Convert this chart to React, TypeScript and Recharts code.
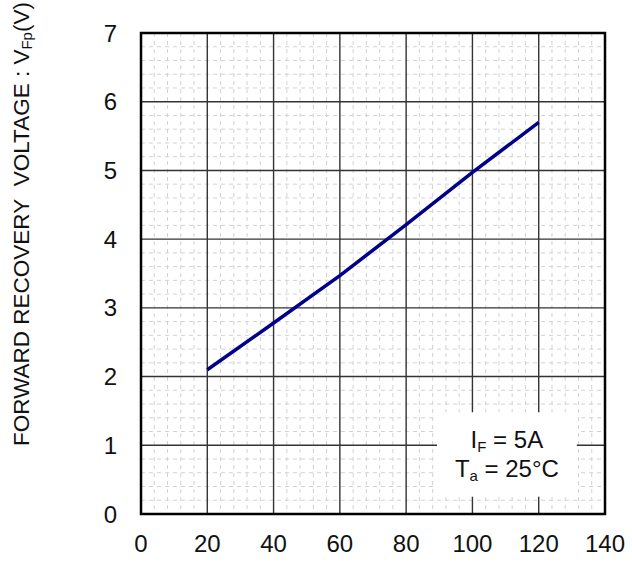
import React from "react";
import { CartesianGrid, Line, LineChart, ReferenceArea, XAxis, YAxis } from "recharts";

// forward current rise-time sweep (x) vs forward recovery voltage VFp (V)
const xValues = [20, 40, 60, 80, 100, 120];
const vfp = [2.1, 2.78, 3.47, 4.21, 4.97, 5.7];

const xTicks = [0, 20, 40, 60, 80, 100, 120, 140];
const yTicks = [0, 1, 2, 3, 4, 5, 6, 7];

const xMinor: number[] = [];
for (let v = 4; v < 140; v += 4) if (v % 20 !== 0) xMinor.push(v);
const yMinor: number[] = [];
for (let i = 1; i < 35; i++) if (i % 5 !== 0) yMinor.push(i / 5);

const data = xValues.map((x, i) => ({ x, vfp: vfp[i] }));

const FONT = "Arial, 'Liberation Sans', sans-serif";

function YLabel(props: any) {
  const vb = props.viewBox || { x: 0, y: 0, height: 0 };
  const cx = 21;
  const cy = vb.y + 191;
  return (
    <text
      x={cx}
      y={cy}
      transform={`rotate(-90 ${cx} ${cy})`}
      textAnchor="middle"
      dominantBaseline="central"
      fontFamily={FONT}
      fontSize={22.5}
      fill="#111"
    >
      FORWARD RECOVERY{"\u00a0\u00a0"}VOLTAGE : V
      <tspan fontSize={15} dy={5}>Fp</tspan>
      <tspan dy={-5}>(V)</tspan>
    </text>
  );
}

function Note(props: any) {
  const vb = props.viewBox || { x: 0, y: 0, width: 0, height: 0 };
  const cx = vb.x + vb.width / 2;
  const cy = vb.y + vb.height / 2;
  return (
    <g fontFamily={FONT} fontSize={24} fill="#111">
      <text x={cx} y={cy - 7} textAnchor="middle">
        I<tspan fontSize={15} dy={4}>F</tspan>
        <tspan dy={-4}> = 5A</tspan>
      </text>
      <text x={cx} y={cy + 22} textAnchor="middle">
        T<tspan fontSize={15} dy={4}>a</tspan>
        <tspan dy={-4}> = 25°C</tspan>
      </text>
    </g>
  );
}

export default function App() {
  return (
    <div style={{ position: "absolute", left: 0, top: 0, background: "#fff" }}>
      <LineChart width={632} height={563} data={data} margin={{ top: 33, right: 27, bottom: 0, left: 0 }}>
        <CartesianGrid
          stroke="#d2d2d2"
          strokeDasharray="4 4"
          strokeWidth={1}
          horizontalValues={yMinor}
          verticalValues={xMinor}
        />
        <CartesianGrid stroke="#333" strokeWidth={1.4} horizontalValues={yTicks} verticalValues={xTicks} />
        <XAxis
          dataKey="x"
          type="number"
          domain={[0, 140]}
          ticks={xTicks}
          interval={0}
          axisLine={false}
          tickLine={false}
          tickSize={0}
          tickMargin={21}
          height={49}
          tick={{ fontFamily: FONT, fontSize: 24, fill: "#111" }}
        />
        <YAxis
          type="number"
          domain={[0, 7]}
          ticks={yTicks}
          interval={0}
          axisLine={false}
          tickLine={false}
          tickSize={0}
          tickMargin={24}
          width={141}
          tick={{ fontFamily: FONT, fontSize: 24, fill: "#111" }}
          label={{ content: <YLabel /> }}
        />
        <ReferenceArea
          x1={89.3}
          x2={131.5}
          y1={0.25}
          y2={1.48}
          fill="#fff"
          fillOpacity={1}
          stroke="none"
          label={{ content: <Note /> }}
        />
        <Line
          type="linear"
          dataKey="vfp"
          stroke="#00008b"
          strokeWidth={3.5}
          dot={false}
          isAnimationActive={false}
        />
        <ReferenceArea x1={0} x2={140} y1={0} y2={7} fill="none" stroke="#000" strokeWidth={2.5} ifOverflow="visible" />
      </LineChart>
    </div>
  );
}
